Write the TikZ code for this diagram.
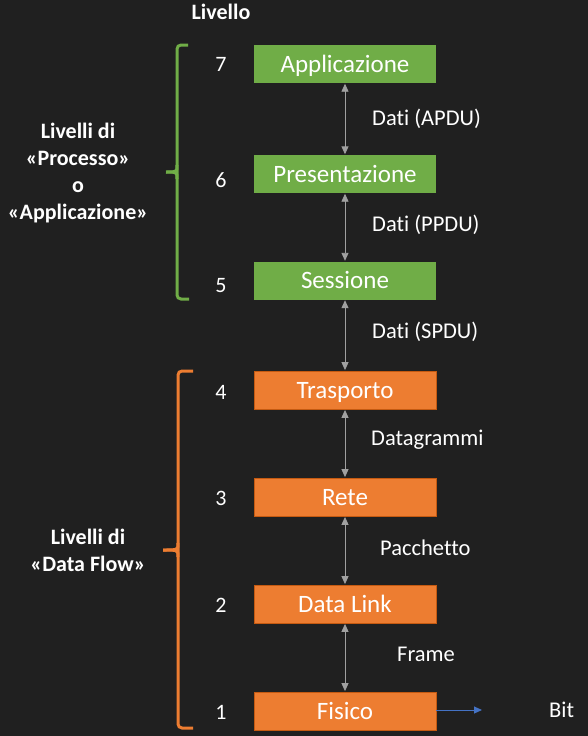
\documentclass[tikz,border=0pt]{standalone}
\usepackage{fontspec}
\setmainfont{Carlito}[Ligatures={NoCommon}]
\usetikzlibrary{arrows.meta}
\definecolor{bg}{RGB}{32,32,32}
\definecolor{appgreen}{RGB}{112,173,71}
\definecolor{flworange}{RGB}{237,125,49}
\definecolor{flwborder}{RGB}{197,90,17}
\definecolor{linkgray}{RGB}{160,160,160}
\definecolor{bitblue}{RGB}{68,114,196}
\begin{document}
\begin{tikzpicture}[x=1pt,y=-1pt,
  layerbox/.style={minimum width=182pt,minimum height=38pt,inner sep=0pt,
    text=white,font=\fontsize{25}{30}\selectfont,text height=16.1pt,text depth=0pt},
  upper/.style={layerbox,fill=appgreen},
  lower/.style={layerbox,fill=flworange,draw=flwborder,line width=0.8pt},
  lvl/.style={text=white,font=\fontsize{22}{26}\selectfont,inner sep=0pt,text height=14.2pt,text depth=0pt},
  pdu/.style={text=white,font=\fontsize{22.5}{27}\selectfont,inner sep=0pt,anchor=west,text height=14.5pt,text depth=0pt},
  grp/.style={text=white,font=\bfseries\fontsize{22}{27}\selectfont,align=center,inner sep=0pt},
  link/.style={draw=linkgray,line width=0.9pt,{Triangle[length=8pt,width=7pt]}-{Triangle[length=8pt,width=7pt]},shorten <=0.5pt,shorten >=0.5pt},
  brace/.style={line width=3pt,rounded corners=4pt}
]
\fill[bg] (0,0) rectangle (588,736);

% layer boxes
\node[upper] (l7) at (345,64)   {Applicazione};
\node[upper] (l6) at (345,174)  {Presentazione};
\node[upper] (l5) at (345,280.5){Sessione};
\node[lower] (l4) at (345,390)  {Trasporto};
\node[lower] (l3) at (345,497)  {Rete};
\node[lower] (l2) at (345,604)  {Data Link};
\node[lower] (l1) at (345,711)  {Fisico};

% links between layers
\draw[link] (l7.south) -- (l6.north);
\draw[link] (l6.south) -- (l5.north);
\draw[link] (l5.south) -- (l4.north);
\draw[link] (l4.south) -- (l3.north);
\draw[link] (l3.south) -- (l2.north);
\draw[link] (l2.south) -- (l1.north);

% data units
\node[pdu] (p76) at (372,118) {Dati (APDU)};
\node[pdu] (p65) at (372,224) {Dati (PPDU)};
\node[pdu] (p54) at (372,331) {Dati (SPDU)};
\node[pdu] (p43) at (371,438) {Datagrammi};
\node[pdu] (p32) at (380,548) {Pacchetto};
\node[pdu] (p21) at (397,654) {Frame};
\node[pdu] (bit) at (549,710) {Bit};

% physical output
\coordinate (bitend) at (482,710);
\draw[bitblue,line width=1pt,-{Triangle[length=8pt,width=7pt]}] (l1.east |- bitend) -- (bitend);

% level numbers
\node[lvl,font=\bfseries\fontsize{22}{26}\selectfont] (hdr) at (221,12) {Livello};
\node[lvl] (n7) at (221,64)  {7};
\node[lvl] (n6) at (221,180) {6};
\node[lvl] (n5) at (221,285) {5};
\node[lvl] (n4) at (221,392) {4};
\node[lvl] (n3) at (221,498) {3};
\node[lvl] (n2) at (221,605) {2};
\node[lvl] (n1) at (221,712) {1};

% group braces
\draw[brace,appgreen] (188,45) -- (177,45) -- (177,299) -- (189,299);
\draw[appgreen,line width=3pt] (177,165) .. controls (177,172) .. (166,172);
\draw[appgreen,line width=3pt] (177,179) .. controls (177,172) .. (166,172);

\draw[brace,flworange] (193,371) -- (178,371) -- (178,728) -- (193,728);
\draw[flworange,line width=3pt] (178,543) .. controls (178,550) .. (163,550);
\draw[flworange,line width=3pt] (178,557) .. controls (178,550) .. (163,550);

% group labels
\node[grp] (g1) at (78,173) {Livelli di\\«Processo»\\o\\«Applicazione»};
\node[grp] (g2) at (88,550) {Livelli di\\«Data Flow»};
\end{tikzpicture}
\end{document}
